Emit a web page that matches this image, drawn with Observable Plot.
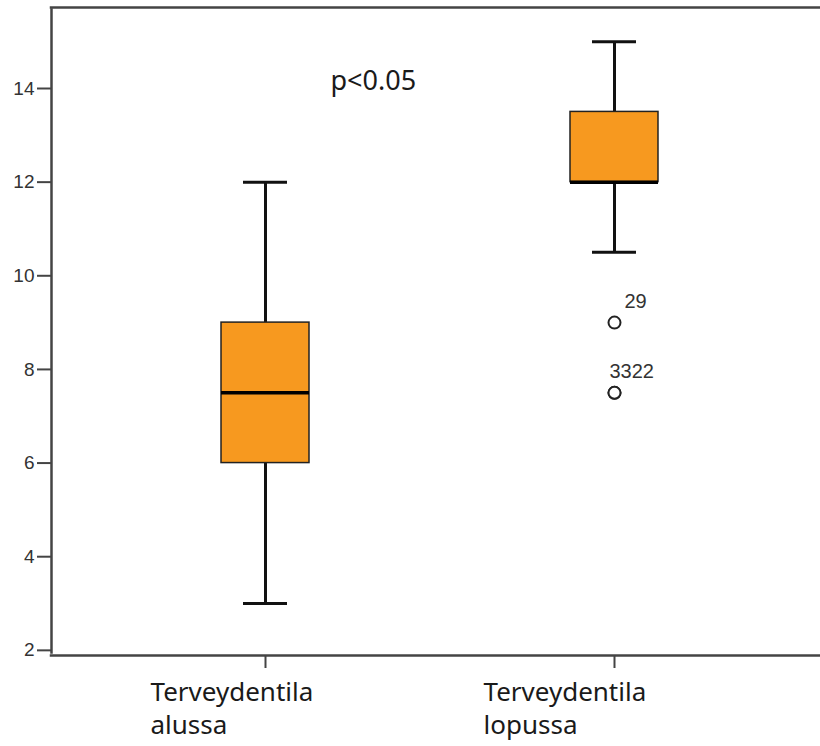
<!DOCTYPE html>
<html>
<head>
<meta charset="utf-8">
<script src="https://cdn.jsdelivr.net/npm/d3@7"></script>
<script src="https://cdn.jsdelivr.net/npm/@observablehq/plot@0.6"></script>
<style>
  html, body { margin: 0; padding: 0; background: #fff; overflow: hidden; }
</style>
</head>
<body>
<div id="chart"></div>
<script>
// ---- data ----
const categories = ["Terveydentila\nalussa", "Terveydentila\nlopussa"];
const whiskerLow = [3, 10.5];
const q1 = [6, 12];
const median = [7.5, 12];
const q3 = [9, 13.5];
const whiskerHigh = [12, 15];
const outlierCategory = [1, 1, 1];
const outlierValue = [9, 7.5, 7.5];
const outlierId = ["29", "33", "22"];
const yTicks = [2, 4, 6, 8, 10, 12, 14];
const annotation = "p<0.05";

// ---- tables ----
const boxes = categories.map((c, i) => ({
  cat: c, lo: whiskerLow[i], q1: q1[i], med: median[i], q3: q3[i], hi: whiskerHigh[i]
}));
const outliers = outlierValue.map((v, i) => ({cat: categories[outlierCategory[i]], v, id: outlierId[i]}));
const outlierLabels = Array.from(d3.group(outliers, d => d.cat + "|" + d.v), ([, g]) => ({
  cat: g[0].cat, v: g[0].v, label: g.map(d => d.id).join("")
}));
const labelA = outlierLabels.filter(d => d.v === 9);
const labelB = outlierLabels.filter(d => d.v !== 9);

const yMin = 1.89, yMax = 15.73;
const BAND = 349;
const OUTER = 0.1132;
const boxInset = (BAND - 88) / 2;
const capInset = (BAND - 44) / 2;
const orange = "#f7991f";
const ink = "#111";
const frameInk = "#444";
const labelFont = "Noto Sans, sans-serif";

const plot = Plot.plot({
  width: 820,
  height: 746,
  marginLeft: 51,
  marginRight: 0,
  marginTop: 7,
  marginBottom: 91,
  style: {background: "#fff", overflow: "hidden", fontFamily: "Liberation Sans, Arial, sans-serif"},
  x: {type: "band", domain: categories, range: [51, 828], paddingInner: 0, paddingOuter: OUTER, round: false, axis: null},
  y: {domain: [yMin, yMax], axis: null},
  marks: [
    // whiskers
    Plot.ruleX(boxes, {x: "cat", y1: "lo", y2: "q1", stroke: ink, strokeWidth: 3}),
    Plot.ruleX(boxes, {x: "cat", y1: "q3", y2: "hi", stroke: ink, strokeWidth: 3}),
    Plot.tickY(boxes, {x: "cat", y: "lo", stroke: ink, strokeWidth: 3, insetLeft: capInset, insetRight: capInset}),
    Plot.tickY(boxes, {x: "cat", y: "hi", stroke: ink, strokeWidth: 3, insetLeft: capInset, insetRight: capInset}),
    // boxes
    Plot.barY(boxes, {x: "cat", y1: "q1", y2: "q3", fill: orange, stroke: "#222", strokeWidth: 1.5, insetLeft: boxInset, insetRight: boxInset}),
    Plot.tickY(boxes, {x: "cat", y: "med", stroke: "#000", strokeWidth: 3.5, insetLeft: boxInset, insetRight: boxInset}),
    // outliers
    Plot.dot(outliers, {x: "cat", y: "v", r: 6, stroke: "#222", strokeWidth: 2, fill: "#fff"}),
    Plot.text(labelA, {x: "cat", y: "v", text: "label", textAnchor: "start", lineAnchor: "bottom", dx: 10, dy: -15, fontSize: 20, fill: "#333"}),
    Plot.text(labelB, {x: "cat", y: "v", text: "label", textAnchor: "start", lineAnchor: "bottom", dx: -5, dy: -15, fontSize: 20, fill: "#333"}),
    // frame (left, top, bottom; right edge lies outside the picture)
    Plot.ruleY([yMin, yMax], {x1: () => categories[0], x2: () => categories[1], stroke: frameInk, strokeWidth: 2.5,
      insetLeft: -(BAND * OUTER + 1.25), insetRight: -(BAND * OUTER)}),
    Plot.ruleX([categories[0]], {x: d => d, dx: -214, y1: yMin, y2: yMax, stroke: frameInk, strokeWidth: 2.5, insetTop: -1.25, insetBottom: -1.25}),
    // y axis
    Plot.axisY(yTicks, {tickSize: 14, tickPadding: 3, fontSize: 19, stroke: frameInk, strokeWidth: 2, fill: "#333"}),
    // x ticks
    Plot.axisX({tickSize: 13, tickFormat: () => "", label: null, stroke: frameInk, strokeWidth: 2}),
    // x labels
    Plot.text([categories[0]], {x: d => d, text: d => d, frameAnchor: "bottom", textAnchor: "start", lineAnchor: "top", dx: -115, dy: 22, fontSize: 26, lineHeight: 1.27, fill: "#1a1a1a", fontFamily: labelFont}),
    Plot.text([categories[1]], {x: d => d, text: d => d, frameAnchor: "bottom", textAnchor: "start", lineAnchor: "top", dx: -131, dy: 22, fontSize: 26, lineHeight: 1.27, fill: "#1a1a1a", fontFamily: labelFont}),
    // annotation
    Plot.text([annotation], {x: () => categories[0], y: () => 14, text: d => d, textAnchor: "start", lineAnchor: "bottom", dx: 65, dy: 1, fontSize: 27, fill: "#1a1a1a", fontFamily: labelFont})
  ]
});
document.getElementById("chart").appendChild(plot);
</script>
</body>
</html>
